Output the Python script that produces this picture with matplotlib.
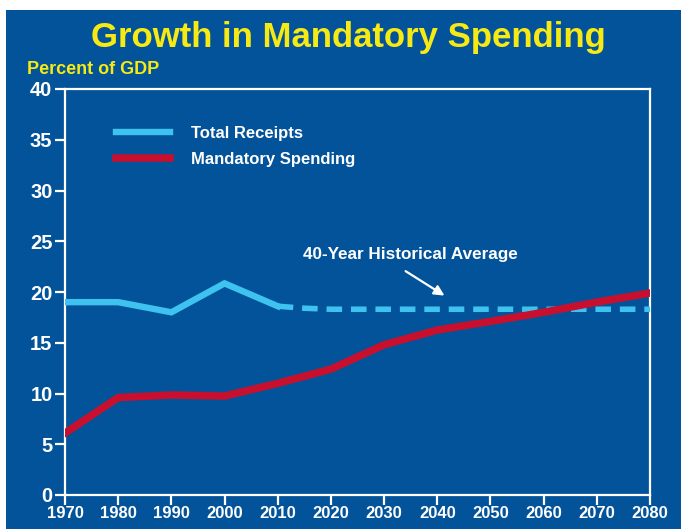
import matplotlib
matplotlib.use("Agg")
import matplotlib.pyplot as plt
from matplotlib import patches

DPI = 100
W, H = 681, 529

BG = "#03539a"
YELLOW = "#f7ea14"
LIGHT_BLUE = "#3ec3f1"
RED = "#c8102e"
NARROW = ["Liberation Sans Narrow", "Liberation Sans", "DejaVu Sans"]
SANS = ["Liberation Sans", "DejaVu Sans"]

years = [1970, 1980, 1990, 2000, 2010, 2020, 2030, 2040, 2050, 2060, 2070, 2080]
receipt_years = [1970, 1980, 1990, 2000, 2010]
receipts = [19.0, 19.0, 18.0, 20.85, 18.6]
avg_years = [2010, 2015, 2020, 2080]
hist_avg = [18.6, 18.4, 18.3, 18.3]
mandatory = [6.1, 9.6, 9.85, 9.75, 11.0, 12.4, 14.8, 16.25, 17.1, 18.0, 19.0, 19.9]
yticks = [0, 5, 10, 15, 20, 25, 30, 35, 40]

fig = plt.figure(figsize=(W / DPI, H / DPI), dpi=DPI, facecolor="white")

# blue panel (thin white margin on the left and top)
fig.patches.append(patches.Rectangle((6 / W, 0), 1 - 6 / W, 1 - 10 / H,
                                     transform=fig.transFigure, facecolor=BG,
                                     edgecolor="none", zorder=-5))

left, right, top, bottom = 65, 650, 89, 495
ax = fig.add_axes([left / W, 1 - bottom / H, (right - left) / W, (bottom - top) / H])
ax.set_facecolor(BG)

ax.plot(receipt_years, receipts, color=LIGHT_BLUE, lw=4.6,
        solid_joinstyle="miter", label="Total Receipts", zorder=3)
ax.plot(avg_years, hist_avg, color=LIGHT_BLUE, lw=4.0, linestyle=(0, (2.8, 1.6)),
        dash_capstyle="butt", zorder=3)
ax.plot(years, mandatory, color=RED, lw=5.4, solid_joinstyle="miter",
        label="Mandatory Spending", zorder=4)

ax.set_xlim(1970, 2080)
ax.set_ylim(0, 40)
ax.set_xticks(years)
ax.set_yticks(yticks)

for s in ax.spines.values():
    s.set_color("white")
    s.set_linewidth(1.6)

ax.tick_params(colors="white", width=1.6, length=7, direction="out")
ax.tick_params(axis="y", pad=2)
ax.tick_params(axis="x", pad=1)
for lab in ax.get_yticklabels():
    lab.set_fontfamily(NARROW)
    lab.set_fontsize(14.5)
    lab.set_fontweight("bold")
for lab in ax.get_xticklabels():
    lab.set_fontfamily(NARROW)
    lab.set_fontsize(12)
    lab.set_fontweight("bold")

leg = ax.legend(loc="upper left", bbox_to_anchor=(0.062, 0.945), frameon=False,
                handlelength=3.2, handletextpad=1.3, labelspacing=0.62,
                prop={"family": SANS, "weight": "bold", "size": 12})
for t in leg.get_texts():
    t.set_color("white")

ax.text(2035.0, 23.65, "40-Year Historical Average", color="white", ha="center",
        va="center", fontsize=12.3, fontweight="bold", family=SANS)
ax.annotate("", xy=(2041.8, 19.5), xytext=(2033.6, 22.2),
            arrowprops=dict(arrowstyle="-|>,head_length=0.6,head_width=0.3",
                            color="white", lw=1.6))

fig.text(348 / W, 1 - 38 / H, "Growth in Mandatory Spending", color=YELLOW,
         ha="center", va="center", fontsize=25, fontweight="bold", family=NARROW)
fig.text(27 / W, 1 - 70 / H, "Percent of GDP", color=YELLOW, ha="left",
         va="center", fontsize=13, fontweight="bold", family=NARROW)

fig.savefig("out.png", dpi=DPI, facecolor="white")
